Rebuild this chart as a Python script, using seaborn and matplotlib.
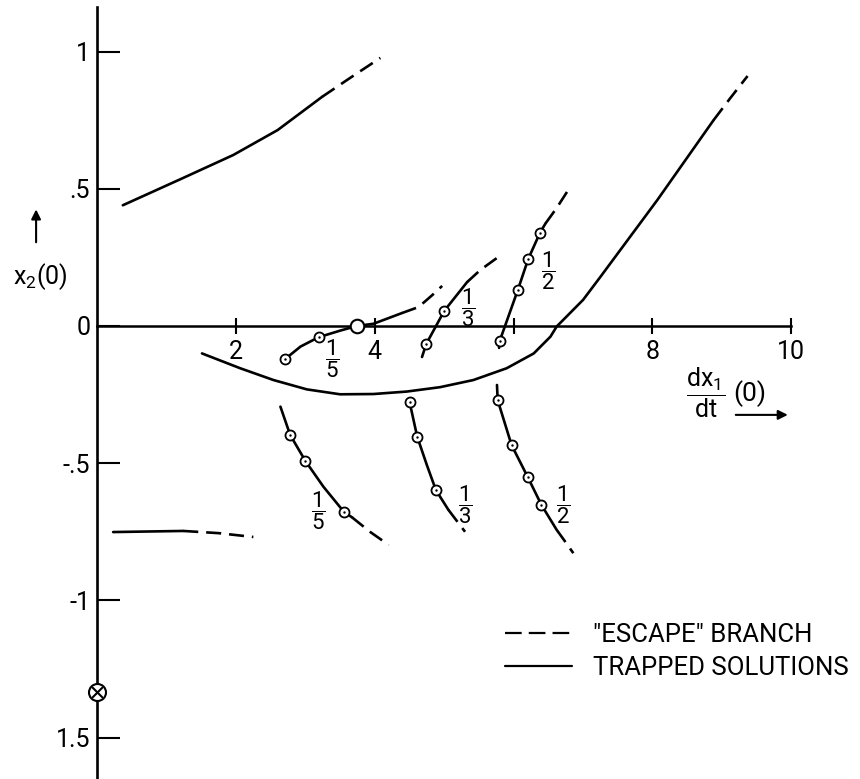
import matplotlib
matplotlib.use("Agg")
import matplotlib.pyplot as plt
from matplotlib.lines import Line2D
import seaborn as sns

# ================================
# Curve data
# ================================

# escape branch, top left
top_solid_x = [0.37, 1.2, 1.96, 2.6, 3.24]
top_solid_y = [0.44, 0.535, 0.623, 0.714, 0.835]
top_dash_x = [3.24, 3.65, 4.08]
top_dash_y = [0.835, 0.905, 0.977]

# flat branch, lower left
left_solid_x = [0.23, 1.24]
left_solid_y = [-0.751, -0.747]
left_dash_x = [1.24, 1.75, 2.25]
left_dash_y = [-0.747, -0.755, -0.769]

# trapped solutions (big U)
u_solid_x = [1.51, 2.06, 2.54, 3.02, 3.5, 3.98, 4.46, 4.94, 5.42, 5.9,
             6.29, 6.53, 6.62, 7.0, 7.25, 8.07, 8.88]
u_solid_y = [-0.10, -0.154, -0.197, -0.231, -0.249, -0.248, -0.239, -0.223,
             -0.197, -0.154, -0.10, -0.039, -0.002, 0.095, 0.179, 0.459, 0.75]
u_dash_x = [8.88, 9.12, 9.37]
u_dash_y = [0.75, 0.83, 0.911]

# 1/5 upper
f5u_solid_x = [2.71, 2.93, 3.19, 3.5, 3.74, 3.98, 4.39]
f5u_solid_y = [-0.12, -0.075, -0.041, -0.017, 0.0, 0.008, 0.047]
f5u_dash_x = [4.39, 4.63, 4.83, 4.97]
f5u_dash_y = [0.047, 0.069, 0.113, 0.146]
f5u_pts_x = [2.71, 3.19]
f5u_pts_y = [-0.12, -0.041]
cross_pt_x = [3.74]
cross_pt_y = [0.0]

# 1/3 upper
f3u_solid_x = [4.68, 4.74, 5.0, 5.33]
f3u_solid_y = [-0.113, -0.066, 0.055, 0.16]
f3u_dash_x = [5.33, 5.52, 5.76]
f3u_dash_y = [0.16, 0.204, 0.248]
f3u_pts_x = [4.74, 5.0]
f3u_pts_y = [-0.066, 0.055]

# 1/2 upper
f2u_solid_x = [5.79, 5.80, 6.06, 6.21, 6.38, 6.46]
f2u_solid_y = [-0.08, -0.054, 0.131, 0.244, 0.34, 0.374]
f2u_dash_x = [6.46, 6.62, 6.77]
f2u_dash_y = [0.374, 0.43, 0.489]
f2u_pts_x = [5.80, 6.06, 6.21, 6.38]
f2u_pts_y = [-0.054, 0.131, 0.244, 0.34]

# 1/5 lower
f5l_solid_x = [2.64, 2.78, 3.0, 3.26, 3.56, 3.67]
f5l_solid_y = [-0.294, -0.397, -0.492, -0.586, -0.679, -0.697]
f5l_dash_x = [3.67, 3.93, 4.2]
f5l_dash_y = [-0.697, -0.75, -0.798]
f5l_pts_x = [2.78, 3.0, 3.56]
f5l_pts_y = [-0.397, -0.492, -0.679]

# 1/3 lower
f3l_solid_x = [4.5, 4.61, 4.75, 4.88, 5.06]
f3l_solid_y = [-0.276, -0.403, -0.507, -0.598, -0.67]
f3l_dash_x = [5.06, 5.18, 5.3]
f3l_dash_y = [-0.67, -0.71, -0.75]
f3l_pts_x = [4.5, 4.61, 4.88]
f3l_pts_y = [-0.276, -0.403, -0.598]

# 1/2 lower
f2l_solid_x = [5.76, 5.77, 5.97, 6.2, 6.4, 6.62]
f2l_solid_y = [-0.215, -0.27, -0.434, -0.549, -0.652, -0.743]
f2l_dash_x = [6.62, 6.74, 6.86]
f2l_dash_y = [-0.743, -0.785, -0.828]
f2l_pts_x = [5.77, 5.97, 6.2, 6.4]
f2l_pts_y = [-0.27, -0.434, -0.549, -0.652]

# starting point on the x2 axis
start_x = [0.0]
start_y = [-1.334]

# fraction labels
frac_text = ["1}{5", "1}{5", "1}{3", "1}{3", "1}{2", "1}{2"]
frac_x = [3.38, 3.19, 5.35, 5.30, 6.50, 6.71]
frac_y = [-0.12, -0.671, 0.068, -0.652, 0.202, -0.652]

x_ticks = [2, 4, 6, 8, 10]
x_tick_labels = ["2", "4", "", "8", "10"]
y_ticks = [1, 0.5, 0, -0.5, -1, -1.5]
y_tick_labels = ["1", ".5", "0", "-.5", "-1", "1.5"]

legend_labels = ['"ESCAPE" BRANCH', "TRAPPED SOLUTIONS"]

# ================================
# Style
# ================================

sns.set_style("white")
plt.rcParams["font.family"] = ["Roboto", "DejaVu Sans"]
plt.rcParams["mathtext.fontset"] = "custom"
plt.rcParams["mathtext.rm"] = "Roboto"
plt.rcParams["mathtext.it"] = "Roboto"
plt.rcParams["text.color"] = "black"
plt.rcParams["xtick.color"] = "black"
plt.rcParams["ytick.color"] = "black"

LW = 1.9
DASH = (0, (5.7, 3.0))

fig = plt.figure(figsize=(8.6, 7.79), dpi=100)
ax = fig.add_axes([0, 0, 1, 1])
ax.set_xlim(-1.40, 10.99)
ax.set_ylim(-1.651, 1.188)


def curve(x, y, dashed=False):
    sns.lineplot(
        x=x, y=y, ax=ax, color="black", lw=LW,
        linestyle=DASH if dashed else "-",
        sort=False, estimator=None
    )


def dots(x, y):
    sns.scatterplot(x=x, y=y, ax=ax, s=52, color="white",
                    edgecolor="black", linewidth=1.3, zorder=4)
    sns.scatterplot(x=x, y=y, ax=ax, s=3, color="black",
                    linewidth=0, zorder=5)


# ================================
# Curves
# ================================

curve(top_solid_x, top_solid_y)
curve(top_dash_x, top_dash_y, dashed=True)

curve(left_solid_x, left_solid_y)
curve(left_dash_x, left_dash_y, dashed=True)

curve(u_solid_x, u_solid_y)
curve(u_dash_x, u_dash_y, dashed=True)

curve(f5u_solid_x, f5u_solid_y)
curve(f5u_dash_x, f5u_dash_y, dashed=True)
dots(f5u_pts_x, f5u_pts_y)
sns.scatterplot(x=cross_pt_x, y=cross_pt_y, ax=ax, s=95, color="white",
                edgecolor="black", linewidth=1.5, zorder=4)

curve(f3u_solid_x, f3u_solid_y)
curve(f3u_dash_x, f3u_dash_y, dashed=True)
dots(f3u_pts_x, f3u_pts_y)

curve(f2u_solid_x, f2u_solid_y)
curve(f2u_dash_x, f2u_dash_y, dashed=True)
dots(f2u_pts_x, f2u_pts_y)

curve(f5l_solid_x, f5l_solid_y)
curve(f5l_dash_x, f5l_dash_y, dashed=True)
dots(f5l_pts_x, f5l_pts_y)

curve(f3l_solid_x, f3l_solid_y)
curve(f3l_dash_x, f3l_dash_y, dashed=True)
dots(f3l_pts_x, f3l_pts_y)

curve(f2l_solid_x, f2l_solid_y)
curve(f2l_dash_x, f2l_dash_y, dashed=True)
dots(f2l_pts_x, f2l_pts_y)

# circled cross on the axis
sns.scatterplot(x=start_x, y=start_y, ax=ax, s=150, color="white",
                edgecolor="black", linewidth=1.5, zorder=6)
sns.scatterplot(x=start_x, y=start_y, ax=ax, s=60, marker="x",
                color="black", linewidth=1.5, zorder=7)

for t, fx, fy in zip(frac_text, frac_x, frac_y):
    ax.text(fx, fy, r"$\dfrac{" + t + "}$", fontsize=16,
            ha="center", va="center")

# ================================
# Axes
# ================================

for side in ["top", "right"]:
    ax.spines[side].set_visible(False)
ax.spines["left"].set_position(("data", 0))
ax.spines["bottom"].set_position(("data", 0))
ax.spines["left"].set_bounds(-1.651, 1.163)
ax.spines["bottom"].set_bounds(0, 10)
ax.spines["left"].set_linewidth(1.9)
ax.spines["bottom"].set_linewidth(1.8)
ax.spines["left"].set_color("black")
ax.spines["bottom"].set_color("black")

ax.set_xticks(x_ticks)
ax.set_xticklabels(x_tick_labels)
ax.set_yticks(y_ticks)
ax.set_yticklabels(y_tick_labels)
ax.tick_params(axis="x", direction="inout", length=12, width=1.5,
               pad=4, labelsize=18, colors="black", bottom=True)
ax.tick_params(axis="y", direction="in", length=16.5, width=1.5,
               pad=5, labelsize=18, colors="black", left=True)
ax.set_xlabel("")
ax.set_ylabel("")

# axis titles with arrows
ax.text(-0.82, 0.182, r"x$_2$(0)", fontsize=18, ha="center", va="center")
ax.annotate("", xy=(-0.88, 0.435), xytext=(-0.88, 0.295),
            arrowprops=dict(arrowstyle="-|>", color="black", lw=1.5,
                            mutation_scale=14))

ax.text(8.76, -0.244, r"$\dfrac{\mathrm{dx_1}}{\mathrm{dt}}$",
        fontsize=18, ha="center", va="center")
ax.text(9.40, -0.245, "(0)", fontsize=19, ha="center", va="center")
ax.annotate("", xy=(9.99, -0.324), xytext=(9.16, -0.324),
            arrowprops=dict(arrowstyle="-|>", color="black", lw=1.5,
                            mutation_scale=14))

# ================================
# Legend
# ================================

handles = [
    Line2D([], [], color="black", lw=1.6, linestyle=(0, (7.5, 3.2))),
    Line2D([], [], color="black", lw=1.6),
]
ax.legend(handles, legend_labels, loc="center left",
          bbox_to_anchor=(5.88, -1.186), bbox_transform=ax.transData,
          frameon=False, borderpad=0, borderaxespad=0,
          handlelength=2.6, handletextpad=0.8, labelspacing=0.34,
          prop={"family": "Roboto", "size": 18.5}, labelcolor="black")

fig.savefig("out.png", dpi=100)
